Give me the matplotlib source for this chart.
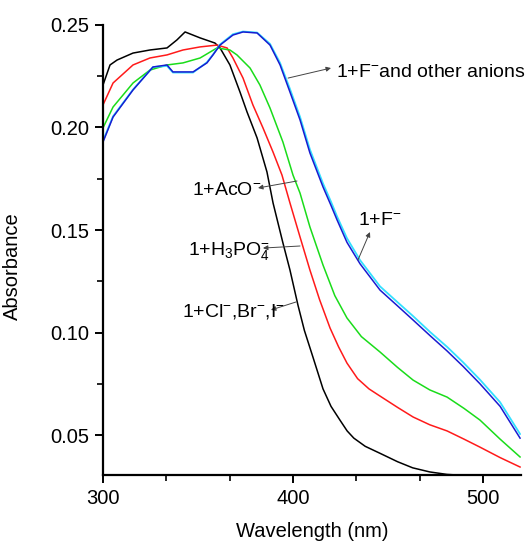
import matplotlib
matplotlib.use("Agg")
import matplotlib.pyplot as plt
from matplotlib.ticker import MultipleLocator

plt.rcParams['font.family'] = ['Liberation Sans', 'DejaVu Sans']
plt.rcParams['mathtext.fontset'] = 'custom'
plt.rcParams['mathtext.rm'] = 'Liberation Sans'
plt.rcParams['mathtext.default'] = 'regular'

# 1 + Cl-, Br-, I-
wl_black = [300, 303.7, 307.4, 315.8, 324.7, 333.7, 338.9, 343.2, 351.1, 358.9,
            361.6, 366.8, 372.1, 375.8, 381.1, 386.3, 389.5, 394.7, 398.4, 402.6,
            406, 410.5, 415.8, 420, 424.7, 428.5, 432, 438, 446, 455,
            463, 472, 481, 486.3]
abs_black = [0.2207, 0.2305, 0.2329, 0.2363, 0.2378, 0.2388, 0.2427, 0.2466, 0.2437, 0.2412,
             0.2388, 0.2305, 0.2173, 0.2076, 0.1949, 0.1783, 0.1632, 0.1437, 0.1305, 0.1134,
             0.1010, 0.0880, 0.0725, 0.0640, 0.0573, 0.0520, 0.0485, 0.0445, 0.0410, 0.0370,
             0.0340, 0.0320, 0.0308, 0.0305]

# 1 + H3PO4-
wl_red = [300, 305.3, 315.8, 324.7, 333.7, 342.1, 351.1, 360, 365.3, 368.4,
          373.7, 378.9, 384.2, 389.5, 394.2, 398.4, 403.7, 408.9, 414, 419.5,
          424, 428.4, 434, 440, 445.8, 455, 463.2, 472, 481.1, 490,
          498.4, 509, 519.5]
abs_red = [0.2110, 0.2217, 0.2305, 0.2339, 0.2354, 0.2378, 0.2393, 0.2402, 0.2388, 0.2339,
           0.2241, 0.2110, 0.1998, 0.1880, 0.1768, 0.1632, 0.1466, 0.1305, 0.1160, 0.1022,
           0.0930, 0.0851, 0.0775, 0.0725, 0.0690, 0.0635, 0.0588, 0.0550, 0.0520, 0.0480,
           0.0441, 0.0390, 0.0344]

# 1 + AcO-
wl_green = [300, 305.3, 315.8, 324.7, 333.7, 342.1, 351.1, 360, 366.8, 370.5,
            377.4, 382.6, 387.9, 394.7, 400, 403.7, 408.9, 415.8, 422, 428.4,
            436, 445.8, 455, 463.2, 472, 481.1, 490, 498.4, 509, 519.5]
abs_green = [0.1998, 0.2100, 0.2217, 0.2280, 0.2305, 0.2315, 0.2339, 0.2388, 0.2378, 0.2354,
             0.2290, 0.2207, 0.2095, 0.1929, 0.1768, 0.1680, 0.1515, 0.1329, 0.1180, 0.1071,
             0.0980, 0.0905, 0.0830, 0.0768, 0.0720, 0.0685, 0.0630, 0.0573, 0.0480, 0.0393]

# 1 + F-
wl_blue = [300, 305.3, 315.8, 326.3, 333.7, 336.8, 347.4, 354.7, 357.9, 361.6,
           368.4, 373.7, 381.1, 387.9, 393.2, 398.4, 403.7, 408.9, 415.8, 420,
           423.2, 428.4, 435.3, 445.8, 455, 463.2, 472.1, 481.1, 489.5, 498.4,
           509, 519.5]
abs_blue = [0.1929, 0.2051, 0.2183, 0.2295, 0.2305, 0.2271, 0.2271, 0.2315, 0.2354, 0.2402,
            0.2451, 0.2466, 0.2461, 0.2402, 0.2305, 0.2173, 0.2037, 0.1876, 0.1710, 0.1620,
            0.1549, 0.1440, 0.1335, 0.1207, 0.1130, 0.1061, 0.0985, 0.0910, 0.0835, 0.0750,
            0.0640, 0.0485]

# 1 + F- and other anions
wl_cyan = wl_blue
abs_cyan = [0.1935, 0.2055, 0.2185, 0.2295, 0.2300, 0.2268, 0.2268, 0.2318, 0.2356, 0.2405,
            0.2455, 0.2468, 0.2463, 0.2408, 0.2315, 0.2188, 0.2052, 0.1893, 0.1727, 0.1638,
            0.1566, 0.1460, 0.1353, 0.1225, 0.1148, 0.1080, 0.1003, 0.0930, 0.0855, 0.0770,
            0.0660, 0.0505]

fig = plt.figure(figsize=(5.26, 5.43), dpi=100)
ax = fig.add_axes([0.1958, 0.1252, 0.7947, 0.8288])

ax.plot(wl_black, abs_black, color='black', lw=1.1)
ax.plot(wl_red, abs_red, color='#ff1a1a', lw=1.1)
ax.plot(wl_green, abs_green, color='#1adc1a', lw=1.1)
ax.plot(wl_cyan, abs_cyan, color='#33e0ff', lw=1.3)
ax.plot(wl_blue, abs_blue, color='#1a1ad0', lw=1.1)

ax.set_xlim(300, 520)
ax.set_ylim(0.0305, 0.25)
ax.set_xticks([300, 400, 500])
ax.xaxis.set_minor_locator(MultipleLocator(100 / 3))
ax.set_yticks([0.05, 0.10, 0.15, 0.20, 0.25])
ax.set_yticklabels(['0.05', '0.10', '0.15', '0.20', '0.25'])
ax.yaxis.set_minor_locator(MultipleLocator(0.025))

for s in ['top', 'right']:
    ax.spines[s].set_visible(False)
for s in ['left', 'bottom']:
    ax.spines[s].set_linewidth(1.6)
ax.tick_params(which='major', direction='out', length=6, width=1.4, labelsize=14.5, pad=4)
ax.tick_params(which='minor', direction='out', length=4, width=1.2)

ax.set_xlabel('Wavelength (nm)', fontsize=14.5)
ax.set_ylabel('Absorbance', fontsize=14.5)
ax.xaxis.set_label_coords(0.5, -0.105)
ax.yaxis.set_label_coords(-0.195, 0.464)

arrow = dict(arrowstyle='-|>', lw=0.7, color='#444444', mutation_scale=7, shrinkA=0, shrinkB=0)
fs = 14

ax.annotate('', xy=(420, 0.2290), xytext=(397.4, 0.2241), arrowprops=arrow)
ax.text(422.6, 0.2246, '1+F$^{-}$and other anions', fontsize=fs, va='baseline')

ax.annotate('', xy=(440.5, 0.1490), xytext=(434.2, 0.1354), arrowprops=arrow)
ax.text(434.2, 0.1524, '1+F$^{-}$', fontsize=fs, va='baseline')

ax.annotate('', xy=(381.6, 0.1705), xytext=(402.1, 0.1739), arrowprops=arrow)
ax.text(346.7, 0.1671, '1+AcO$^{-}$', fontsize=fs, va='baseline')

ax.annotate('', xy=(384.2, 0.1412), xytext=(403.7, 0.1422), arrowprops=arrow)
ax.text(344.7, 0.1378, '1+H$_3$PO$_4^{-}$', fontsize=fs, va='baseline')

ax.annotate('', xy=(388.4, 0.1110), xytext=(401.6, 0.1149), arrowprops=arrow)
ax.text(341.6, 0.1076, '1+Cl$^{-}$,Br$^{-}$,I$^{-}$', fontsize=fs, va='baseline')

fig.savefig('out.png', dpi=100)
